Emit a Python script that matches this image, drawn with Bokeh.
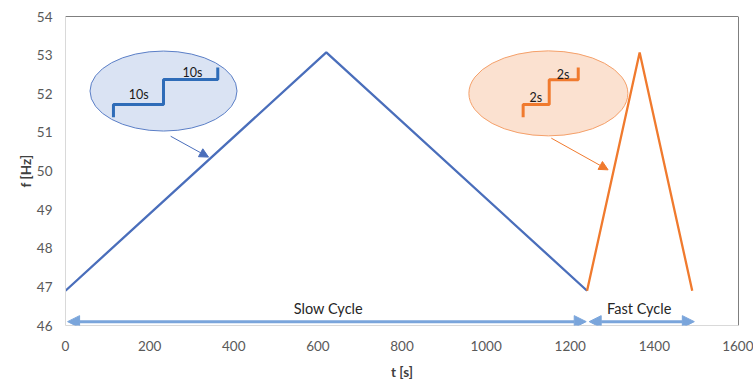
from bokeh.plotting import figure
from bokeh.models import Arrow, NormalHead, Span, Label, FixedTicker
from bokeh.embed import file_html
from bokeh.resources import INLINE

# Data
slow_t = [0, 620, 1240]
slow_f = [46.9, 53.07, 46.9]
fast_t = [1240, 1365, 1490]
fast_f = [46.9, 53.07, 46.9]

x_ticks = [0, 200, 400, 600, 800, 1000, 1200, 1400, 1600]
y_ticks = [46, 47, 48, 49, 50, 51, 52, 53, 54]

# Inset staircase sketches
slow_step_t = [114, 114, 233, 233, 362, 362]
slow_step_f = [51.39, 51.72, 51.72, 52.37, 52.37, 52.68]
fast_step_t = [1088, 1088, 1150, 1150, 1219, 1219]
fast_step_f = [51.39, 51.72, 51.72, 52.36, 52.36, 52.68]

BLUE = "#4A6EBB"
ORANGE = "#F07A2E"
DARROW = "#7AA5DB"

p = figure(frame_width=673, frame_height=309, x_range=(0, 1600), y_range=(46, 54),
           output_backend="svg", toolbar_location=None,
           min_border_left=65, min_border_right=15, min_border_top=16, min_border_bottom=50)
p.outline_line_color = None
p.xgrid.grid_line_color = None
p.ygrid.grid_line_color = None

for ax in (p.xaxis[0], p.yaxis[0]):
    ax.axis_line_color = "#D9D9D9"
    ax.major_tick_line_color = None
    ax.minor_tick_line_color = None
    ax.major_tick_out = 0
    ax.major_tick_in = 0
    ax.minor_tick_out = 0
    ax.minor_tick_in = 0
    ax.major_label_text_color = "#595959"
    ax.major_label_text_font = "Lato"
    ax.major_label_text_font_size = "13.5px"
    ax.axis_label_text_font = "Lato"
    ax.axis_label_text_font_style = "bold"
    ax.axis_label_text_font_size = "13.5px"
    ax.axis_label_text_color = "#404040"

p.xaxis.ticker = FixedTicker(ticks=x_ticks)
p.yaxis.ticker = FixedTicker(ticks=y_ticks)
p.xaxis.axis_label = "t [s]"
p.yaxis.axis_label = "f [Hz]"
p.xaxis.major_label_standoff = 15
p.yaxis.major_label_standoff = 13
p.xaxis.axis_label_standoff = 10
p.yaxis.axis_label_standoff = 0

# top and right border
p.add_layout(Span(location=54, dimension="width", line_color="#000000", line_width=1))
p.add_layout(Span(location=1600, dimension="height", line_color="#000000", line_width=1))

# Main curves
p.line(slow_t, slow_f, line_color=BLUE, line_width=2.3)
p.line(fast_t, fast_f, line_color=ORANGE, line_width=2.3)

# Ellipses
p.ellipse(x=[233], y=[52.07], width=147, height=80, width_units="screen", height_units="screen",
          fill_color="#DAE3F3", line_color="#5B7FC7", line_width=1)
p.ellipse(x=[1148], y=[52.01], width=159, height=85, width_units="screen", height_units="screen",
          fill_color="#FBE1D0", line_color="#F4A06A", line_width=1)

p.line(slow_step_t, slow_step_f, line_color="#2E6CB8", line_width=3)
p.line(fast_step_t, fast_step_f, line_color=ORANGE, line_width=3)

lbl = dict(text_font="Lato", text_font_size="12.5px", text_color="#1a1a1a",
           text_align="center", text_baseline="middle")
p.add_layout(Label(x=174, y=51.98, text="10s", **lbl))
p.add_layout(Label(x=302, y=52.55, text="10s", **lbl))
p.add_layout(Label(x=1118, y=51.9, text="2s", **lbl))
p.add_layout(Label(x=1183, y=52.5, text="2s", **lbl))

# Callout arrows
p.add_layout(Arrow(x_start=250, y_start=50.9, x_end=340, y_end=50.36,
                   line_color="#4A6EBB", line_width=1,
                   end=NormalHead(size=9, fill_color="#4A6EBB", line_color="#4A6EBB")))
p.add_layout(Arrow(x_start=1155, y_start=50.85, x_end=1290, y_end=50.03,
                   line_color=ORANGE, line_width=1,
                   end=NormalHead(size=9, fill_color=ORANGE, line_color=ORANGE)))

# Cycle double arrows
for xs, xe in ((5, 1238), (1245, 1495)):
    p.add_layout(Arrow(x_start=xs, y_start=46.1, x_end=xe, y_end=46.1,
                       line_color=DARROW, line_width=3,
                       start=NormalHead(size=12, fill_color=DARROW, line_color=DARROW),
                       end=NormalHead(size=12, fill_color=DARROW, line_color=DARROW)))

cyc = dict(text_font="Lato", text_font_size="14.5px", text_color="#262626",
           text_align="center", text_baseline="middle")
p.add_layout(Label(x=625, y=46.44, text="Slow Cycle", **cyc))
p.add_layout(Label(x=1364, y=46.44, text="Fast Cycle", **cyc))

open("out.html", "w").write(file_html(p, INLINE))
